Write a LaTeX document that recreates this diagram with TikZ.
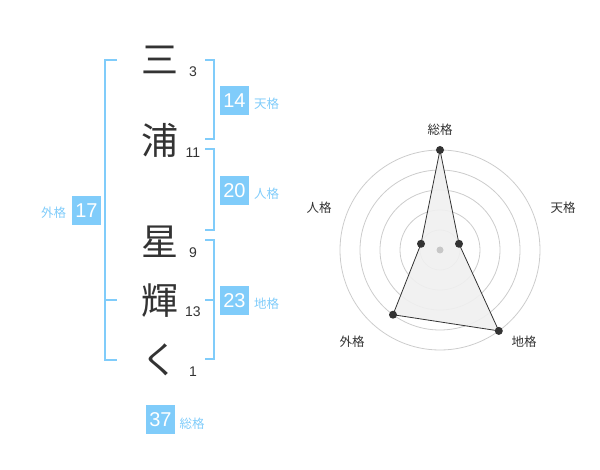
\documentclass[tikz,border=0pt]{standalone}
\usepackage{fontspec}
\setmainfont{Liberation Sans}
\newfontfamily\jp{Noto Sans CJK JP}
\definecolor{kblue}{RGB}{128,204,250}
\definecolor{ktext}{RGB}{51,51,51}
\begin{document}
\begin{tikzpicture}[x=1pt,y=-1pt,
  kanji/.style={font=\jp\fontsize{37}{37}\selectfont, text=ktext, inner sep=0},
  strokes/.style={font=\fontsize{14}{14}\selectfont, text=ktext, inner sep=0},
  numbox/.style={fill=kblue, text=white, minimum size=29pt, inner sep=0, font=\fontsize{20}{20}\selectfont},
  boxlabel/.style={font=\jp\fontsize{12.5}{12.5}\selectfont, text=kblue, inner sep=0},
  brk/.style={draw=kblue, line width=2pt},
  ring/.style={draw=black!20, line width=0.8pt},
  axlabel/.style={font=\jp\fontsize{12.5}{12.5}\selectfont, text=ktext, inner sep=0},
  dot/.style={circle, fill=ktext, inner sep=0, minimum size=8pt},
]
\useasboundingbox (0,0) rectangle (600,470);
% name characters
\node[kanji] (k1) at (160,60) {三};
\node[kanji] (k2) at (160,140) {浦};
\node[kanji] (k3) at (160,242) {星};
\node[kanji] (k4) at (160,301) {輝};
\node[kanji] (k5) at (160,360) {く};
% stroke counts
\node[strokes] (s1) at (193,72) {3};
\node[strokes] (s2) at (193,153) {11};
\node[strokes] (s3) at (193,253) {9};
\node[strokes] (s4) at (193,312) {13};
\node[strokes] (s5) at (193,372) {1};
% brackets
\draw[brk] (117,60) -- (105,60) -- (105,360) -- (117,360);
\draw[brk] (105,300) -- (117,300);
\draw[brk] (205,60) -- (214,60) -- (214,139) -- (205,139);
\draw[brk] (205,149) -- (214,149) -- (214,230) -- (205,230);
\draw[brk] (205,240) -- (214,240) -- (214,359) -- (205,359);
\draw[brk] (205,300) -- (214,300);
% boxes
\node[numbox] (b14) at (234.5,100.5) {14};
\node[boxlabel, anchor=west] (l14) at (254,104) {天格};
\node[numbox] (b20) at (234.5,190.5) {20};
\node[boxlabel, anchor=west] (l20) at (254,194) {人格};
\node[numbox] (b23) at (234.5,300.5) {23};
\node[boxlabel, anchor=west] (l23) at (254,304) {地格};
\node[numbox] (b17) at (86.5,210.5) {17};
\node[boxlabel] (l17) at (53.5,213) {外格};
\node[numbox] (b37) at (160.5,419.5) {37};
\node[boxlabel] (l37) at (192,424) {総格};
% radar chart
\foreach \r in {20,40,60,80,100} \draw[ring] (440,250) circle[radius=\r];
\coordinate (pS) at (440,150);
\coordinate (pT) at (459.0,243.8);
\coordinate (pC) at (498.8,330.9);
\coordinate (pG) at (393.0,314.7);
\coordinate (pJ) at (421.0,243.8);
\filldraw[fill=black!6, fill opacity=0.9, draw=ktext, line width=0.8pt] (pS) -- (pT) -- (pC) -- (pG) -- (pJ) -- cycle;
\fill[black!22] (440,250) circle[radius=3.5];
\foreach \p in {pS,pT,pC,pG,pJ} \node[dot] at (\p) {};
\node[axlabel] (aS) at (440,130) {総格};
\node[axlabel] (aT) at (563,208) {天格};
\node[axlabel] (aJ) at (319,208) {人格};
\node[axlabel] (aG) at (352,342) {外格};
\node[axlabel] (aC) at (524,342) {地格};
\end{tikzpicture}
\end{document}
